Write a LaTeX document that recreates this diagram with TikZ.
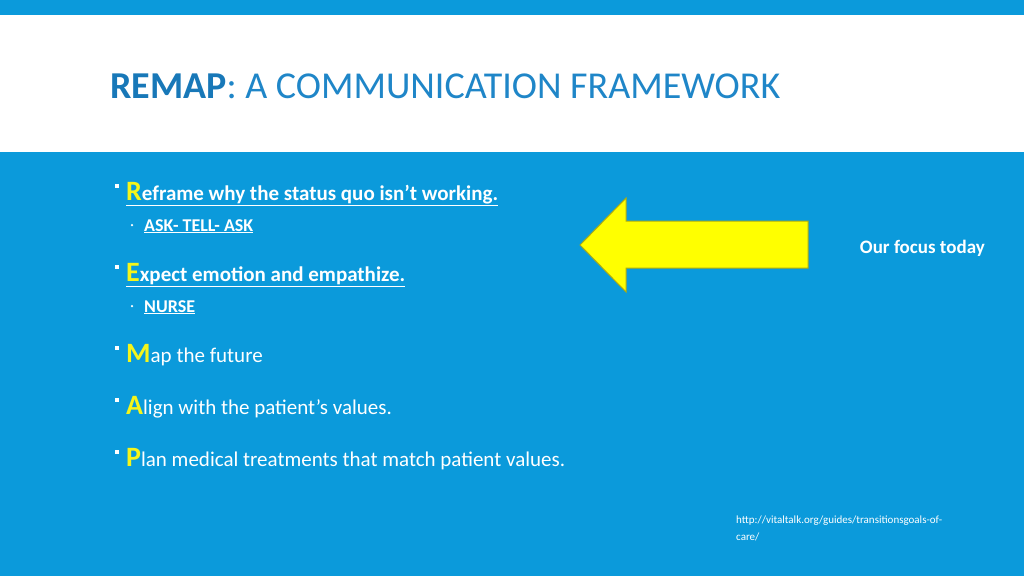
\documentclass[tikz,border=0pt]{standalone}
\usepackage{fontspec}
\setmainfont{Carlito}
\definecolor{bg}{HTML}{0B9ADB}
\definecolor{ttl}{HTML}{1F86C8}
\definecolor{ttlb}{HTML}{1878B8}
\definecolor{yel}{HTML}{F5F51A}
\definecolor{yel2}{HTML}{FFFF00}
\begin{document}
\begin{tikzpicture}[x=1pt,y=-1pt,
  txt/.style={anchor=base west,inner sep=0,text=white},
  bul/.style={fill=white,minimum size=4pt,inner sep=0},
  sbul/.style={fill=white,circle,minimum size=2.5pt,inner sep=0}]
\useasboundingbox (0,0) rectangle (1024,576);
\fill[bg] (0,0) rectangle (1024,576);
\fill[white] (0,15) rectangle (1024,152);
\node[anchor=base west,inner sep=0] (title) at (110,98) {\fontsize{38}{44}\selectfont\textcolor{ttlb}{\textbf{REMAP}}\textcolor{ttl}{: A COMMUNICATION FRAMEWORK}};
% bullets
\node[bul] (b1) at (117,186) {};
\node[txt] (t1) at (126,200) {\fontsize{21}{24}\selectfont\bfseries\underline{{\fontsize{28}{30}\selectfont\textcolor{yel}{R}}eframe why the status quo isn’t working.}};
\node[sbul] (s1) at (132,225) {};
\node[txt] (u1) at (144,231) {\fontsize{18}{20}\selectfont\bfseries\underline{ASK- TELL- ASK}};
\node[bul] (b2) at (117,267) {};
\node[txt] (t2) at (126,281) {\fontsize{21}{24}\selectfont\bfseries\underline{{\fontsize{28}{30}\selectfont\textcolor{yel}{E}}xpect emotion and empathize.}};
\node[sbul] (s2) at (132,306) {};
\node[txt] (u2) at (144,312) {\fontsize{18}{20}\selectfont\bfseries\underline{NURSE}};
\node[bul] (b3) at (117,348) {};
\node[txt] (t3) at (126,362) {\fontsize{21}{24}\selectfont{\fontsize{28}{30}\selectfont\bfseries\textcolor{yel}{M}}ap the future};
\node[bul] (b4) at (117,400) {};
\node[txt] (t4) at (126,414) {\fontsize{21}{24}\selectfont{\fontsize{28}{30}\selectfont\bfseries\textcolor{yel}{A}}lign with the patient’s values.};
\node[bul] (b5) at (117,452) {};
\node[txt] (t5) at (126,466) {\fontsize{21}{24}\selectfont{\fontsize{28}{30}\selectfont\bfseries\textcolor{yel}{P}}lan medical treatments that match patient values.};
% arrow
\draw[fill=yel2,draw=yel!70!black,line width=1pt] (580,245) -- (626,198) -- (626,221) -- (808,221) -- (808,268) -- (626,268) -- (626,292) -- cycle;
\node[txt,anchor=base east] (focus) at (985,253) {\fontsize{19}{22}\selectfont\bfseries Our focus today};
\node[txt,anchor=north west,align=left,font=\fontsize{11}{17}\selectfont] (url) at (736,516) {http://vitaltalk.org/guides/transitionsgoals-of-\\care/};
\end{tikzpicture}
\end{document}
